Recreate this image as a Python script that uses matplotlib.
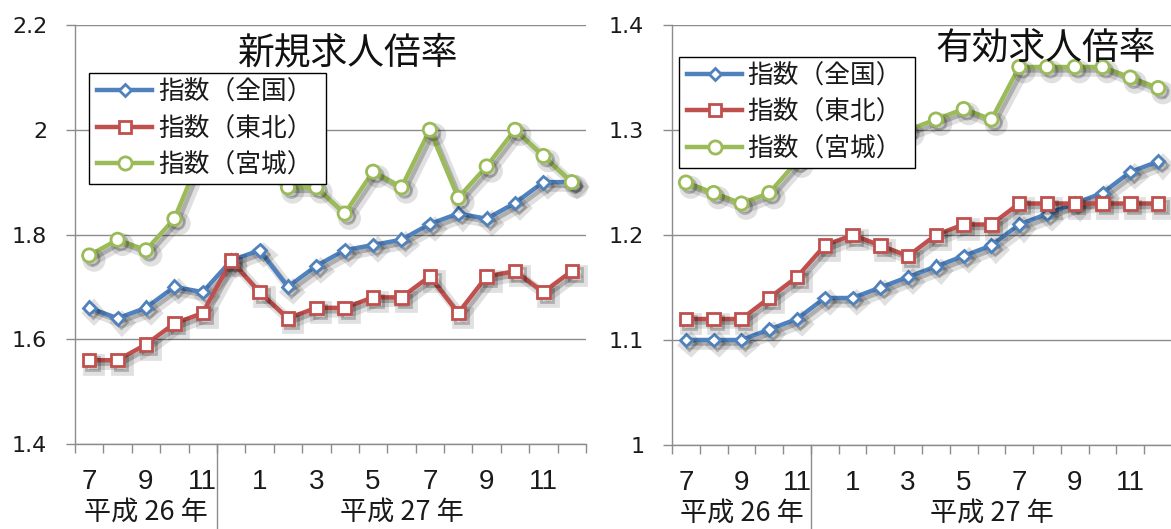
import matplotlib
matplotlib.use('Agg')
import matplotlib.pyplot as plt
import matplotlib.patheffects as pe
from matplotlib.lines import Line2D
from matplotlib.patches import Rectangle
from matplotlib.transforms import blended_transform_factory

plt.rcParams['font.family'] = ['Noto Sans CJK JP', 'DejaVu Sans']

# ---- data ----
months = [7, 8, 9, 10, 11, 12, 1, 2, 3, 4, 5, 6, 7, 8, 9, 10, 11, 12]
month_labels = ['7', '', '9', '', '11', '', '1', '', '3', '', '5', '', '7', '', '9', '', '11', '']
year_labels = ['平成 26 年', '平成 27 年']
series_names = ['指数（全国）', '指数（東北）', '指数（宮城）']

shinki_zenkoku = [1.66, 1.64, 1.66, 1.70, 1.69, 1.75, 1.77, 1.70, 1.74, 1.77, 1.78, 1.79, 1.82, 1.84, 1.83, 1.86, 1.90, 1.90]
shinki_tohoku = [1.56, 1.56, 1.59, 1.63, 1.65, 1.75, 1.69, 1.64, 1.66, 1.66, 1.68, 1.68, 1.72, 1.65, 1.72, 1.73, 1.69, 1.73]
shinki_miyagi = [1.76, 1.79, 1.77, 1.83, 1.96, 1.98, 1.94, 1.89, 1.89, 1.84, 1.92, 1.89, 2.00, 1.87, 1.93, 2.00, 1.95, 1.90]

yuko_zenkoku = [1.10, 1.10, 1.10, 1.11, 1.12, 1.14, 1.14, 1.15, 1.16, 1.17, 1.18, 1.19, 1.21, 1.22, 1.23, 1.24, 1.26, 1.27]
yuko_tohoku = [1.12, 1.12, 1.12, 1.14, 1.16, 1.19, 1.20, 1.19, 1.18, 1.20, 1.21, 1.21, 1.23, 1.23, 1.23, 1.23, 1.23, 1.23]
yuko_miyagi = [1.25, 1.24, 1.23, 1.24, 1.27, 1.28, 1.29, 1.29, 1.30, 1.31, 1.32, 1.31, 1.36, 1.36, 1.36, 1.36, 1.35, 1.34]

left_ticks = [1.4, 1.6, 1.8, 2.0, 2.2]
right_ticks = [1.0, 1.1, 1.2, 1.3, 1.4]

colors = ['#4F81BD', '#C0504D', '#9BBB59']
markers = ['D', 's', 'o']
msizes = [6.5, 9, 9.5]

W, H = 1171, 529
fig = plt.figure(figsize=(W / 100, H / 100), dpi=100)

def px_axes(x0, x1, y0, y1):
    return fig.add_axes([x0 / W, 1 - y1 / H, (x1 - x0) / W, (y1 - y0) / H])

def fx(x):
    return x / W

def fy(y):
    return 1 - y / H

ax1 = px_axes(75, 586, 25, 444)
ax2 = px_axes(672, 1172, 25, 445)

grid_c = '#8C8C8C'
text_c = '#1A1A1A'
shadow = [pe.SimpleLineShadow(offset=(3.5, -3.5), shadow_color='black', alpha=0.12, rho=0.3, linewidth=7),
          pe.SimpleLineShadow(offset=(2.5, -2.5), shadow_color='black', alpha=0.22, rho=0.3),
          pe.Normal()]


def draw_legend(box, rows_y, handle_x, text_x):
    x0, y0, x1, y1 = box
    fig.add_artist(Rectangle((fx(x0), fy(y1)), fx(x1) - fx(x0), fy(y0) - fy(y1),
                             transform=fig.transFigure, facecolor='white', edgecolor='black',
                             lw=1.0, zorder=10))
    for ry, c, m, ms, name in zip(rows_y, colors, markers, msizes, series_names):
        fig.add_artist(Line2D([fx(handle_x[0]), fx(handle_x[1])], [fy(ry), fy(ry)],
                              transform=fig.transFigure, color=c, lw=3.2, zorder=11))
        fig.add_artist(Line2D([fx((handle_x[0] + handle_x[1]) / 2)], [fy(ry)],
                              transform=fig.transFigure, color=c, marker=m, ms=ms,
                              mfc='white', mec=c, mew=2.0, lw=0, zorder=12))
        fig.text(fx(text_x), fy(ry), name, ha='left', va='center_baseline', fontsize=18.5,
                 color=text_c, zorder=12)


def setup(ax, series, ticks, title, title_px, sep_px_bottom):
    x = list(range(len(months)))
    for vals, c, m, ms, name in zip(series, colors, markers, msizes, series_names):
        ax.plot(x, vals, color=c, lw=3.2, marker=m, ms=ms, mfc='white', mec=c, mew=2.0,
                label=name, path_effects=shadow, zorder=3, clip_on=False)
    ax.set_xlim(-0.5, len(months) - 0.5)
    ax.set_ylim(ticks[0], ticks[-1])
    ax.set_yticks(ticks)
    ax.set_yticklabels(['{:g}'.format(t) for t in ticks], fontsize=16, family='DejaVu Sans', color=text_c)
    ax.yaxis.grid(True, color=grid_c, lw=1.0)
    ax.set_axisbelow(True)
    ax.tick_params(axis='y', length=6.5, width=1, color=grid_c, pad=13.5)
    ax.set_xticks([i - 0.5 for i in range(len(months) + 1)])
    ax.set_xticklabels([])
    ax.tick_params(axis='x', length=6.5, width=1, color=grid_c)
    for s in ['top', 'right']:
        ax.spines[s].set_visible(False)
    for s in ['left', 'bottom']:
        ax.spines[s].set_color(grid_c)
        ax.spines[s].set_linewidth(1.0)
    tr = blended_transform_factory(ax.transData, ax.transAxes)
    hpx = ax.get_position().height * H
    for i, lab in enumerate(month_labels):
        if lab:
            ax.text(i, -38 / hpx, lab, transform=tr, ha='center', va='center', fontsize=20,
                    family='Liberation Sans', color=text_c)
    ax.text(2.0, -68.5 / hpx, year_labels[0], transform=tr, ha='center', va='center', fontsize=19.5, color=text_c)
    ax.text(11.0, -68.5 / hpx, year_labels[1], transform=tr, ha='center', va='center', fontsize=19.5, color=text_c)
    ax.plot([4.5, 4.5], [0, -sep_px_bottom / hpx], transform=tr, color=grid_c, lw=1.0, clip_on=False)
    fig.text(fx(title_px[0]), fy(title_px[1]), title, ha='center', va='center',
             fontsize=26.5, color='#111111', zorder=6)


setup(ax1, [shinki_zenkoku, shinki_tohoku, shinki_miyagi], left_ticks, '新規求人倍率', (348.5, 53), 90)
setup(ax2, [yuko_zenkoku, yuko_tohoku, yuko_miyagi], right_ticks, '有効求人倍率', (1046, 48), 90)

draw_legend((89, 73, 326, 184), (90, 127, 163), (97, 152), 158)
draw_legend((679, 57, 915, 168), (74, 110, 147), (687, 742), 747)

fig.savefig('out.png', dpi=100)
